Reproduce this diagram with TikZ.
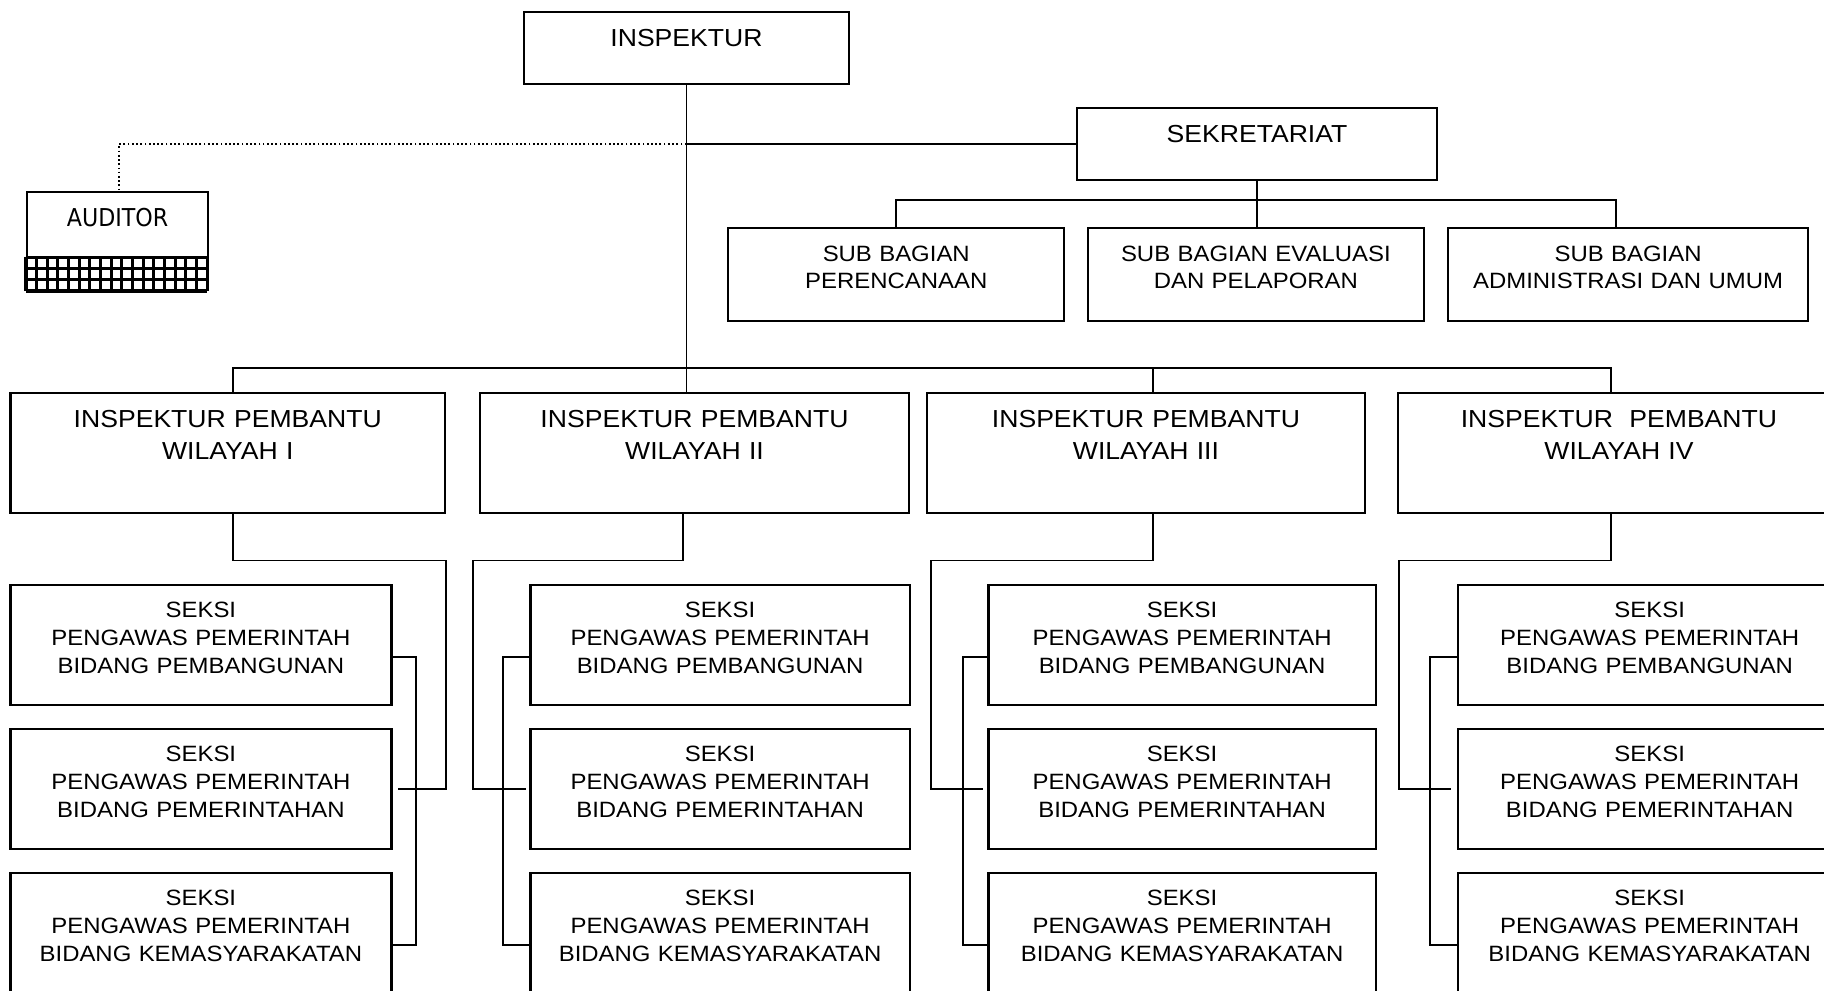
\documentclass[tikz,border=0pt]{standalone}
\usepackage{fontspec}
\setmainfont{Liberation Sans}[FakeStretch=1.08]
\newfontfamily\auditorfont{DejaVu Sans}[FakeStretch=0.9]
\tikzset{
  box/.style={draw, line width=0.65pt, inner sep=0pt, align=center, anchor=north west},
  headbox/.style={box, font=\fontsize{7}{9.1}\selectfont, text height=0.343cm, text depth=0.377cm},
  audbox/.style={box, font=\auditorfont\fontsize{7}{8.5}\selectfont, text height=0.343cm, text depth=0.637cm},
  subbox/.style={box, font=\fontsize{6.3}{7.7}\selectfont, text height=0.333cm, text depth=0.597cm},
  wilbox/.style={box, font=\fontsize{7}{9.1}\selectfont, text height=0.347cm, text depth=0.853cm},
  seksibox/.style={box, font=\fontsize{6.3}{7.9}\selectfont, text height=0.327cm, text depth=0.873cm},
  link/.style={line width=0.5pt},
  staflink/.style={line width=0.5pt, dash pattern=on 0.5pt off 0.7pt},
  gridfill/.style={line width=0.85pt, xstep=0.1066cm, ystep=0.1123cm}
}

\begin{document}
\begin{tikzpicture}[x=0.01cm, y=-0.01cm]
  \useasboundingbox (0,0) rectangle (1824,991);
  \clip (0,0) rectangle (1824,991);

  \coordinate (sbus) at (0,200);
  \coordinate (wbus) at (0,368);
  \coordinate (obus) at (0,560.5);

  % top
  \node[headbox, text width=3.255cm] (insp) at (522.5,10.7) {INSPEKTUR};
  \node[headbox, text width=3.595cm] (sekr) at (1076,107) {SEKRETARIAT};
  \node[audbox, text width=1.813cm] (aud) at (25.7,190.7) {AUDITOR};
  \draw[gridfill, shift={(aud.south west)}] (0,0) grid (1.813cm,0.338cm);

  \node[subbox, text width=3.36cm] (sb1) at (727,227) {SUB BAGIAN\\PERENCANAAN};
  \node[subbox, text width=3.362cm] (sb2) at (1086.5,227) {SUB BAGIAN EVALUASI\\DAN PELAPORAN};
  \node[subbox, text width=3.596cm] (sb3) at (1447,227) {SUB BAGIAN\\ADMINISTRASI DAN UMUM};

  % wilayah
  \node[wilbox, text width=4.344cm] (w1) at (9.3,392) {INSPEKTUR PEMBANTU\\WILAYAH I};
  \node[wilbox, text width=4.285cm] (w2) at (479,392) {INSPEKTUR PEMBANTU\\WILAYAH II};
  \node[wilbox, text width=4.374cm] (w3) at (926,392) {INSPEKTUR PEMBANTU\\WILAYAH III};
  \node[wilbox, text width=4.42cm] (w4) at (1396.7,392) {INSPEKTUR\ \ PEMBANTU\\WILAYAH IV};

  % seksi
  \node[seksibox, text width=3.807cm] (s11) at (9.3,584) {SEKSI\\PENGAWAS PEMERINTAH\\BIDANG PEMBANGUNAN};
  \node[seksibox, text width=3.807cm] (s12) at (9.3,728) {SEKSI\\PENGAWAS PEMERINTAH\\BIDANG PEMERINTAHAN};
  \node[seksibox, text width=3.807cm] (s13) at (9.3,872) {SEKSI\\PENGAWAS PEMERINTAH\\BIDANG KEMASYARAKATAN};
  \node[seksibox, text width=3.79cm] (s21) at (529.3,584) {SEKSI\\PENGAWAS PEMERINTAH\\BIDANG PEMBANGUNAN};
  \node[seksibox, text width=3.79cm] (s22) at (529.3,728) {SEKSI\\PENGAWAS PEMERINTAH\\BIDANG PEMERINTAHAN};
  \node[seksibox, text width=3.79cm] (s23) at (529.3,872) {SEKSI\\PENGAWAS PEMERINTAH\\BIDANG KEMASYARAKATAN};
  \node[seksibox, text width=3.87cm] (s31) at (987.3,584) {SEKSI\\PENGAWAS PEMERINTAH\\BIDANG PEMBANGUNAN};
  \node[seksibox, text width=3.87cm] (s32) at (987.3,728) {SEKSI\\PENGAWAS PEMERINTAH\\BIDANG PEMERINTAHAN};
  \node[seksibox, text width=3.87cm] (s33) at (987.3,872) {SEKSI\\PENGAWAS PEMERINTAH\\BIDANG KEMASYARAKATAN};
  \node[seksibox, text width=3.835cm] (s41) at (1456.7,584) {SEKSI\\PENGAWAS PEMERINTAH\\BIDANG PEMBANGUNAN};
  \node[seksibox, text width=3.835cm] (s42) at (1456.7,728) {SEKSI\\PENGAWAS PEMERINTAH\\BIDANG PEMERINTAHAN};
  \node[seksibox, text width=3.835cm] (s43) at (1456.7,872) {SEKSI\\PENGAWAS PEMERINTAH\\BIDANG KEMASYARAKATAN};

  % lines from the top
  \draw[link] (insp.south) -- (insp.south |- w2.north);
  \draw[link] (insp.south |- sekr.west) -- (sekr.west);
  \draw[staflink] (insp.south |- sekr.west) -| ([xshift=0.015cm]aud.north);
  \draw[link] (sekr.south) -- (sekr.south |- sb2.north);
  \draw[link] (sb1.north) |- ([xshift=-0.121cm]sb3.north |- sbus) -- ([xshift=-0.121cm]sb3.north);
  \draw[link] ([xshift=0.055cm]w1.north) |- ([xshift=-0.082cm]w4.north |- wbus) -- ([xshift=-0.082cm]w4.north);
  \draw[link] ([xshift=0.07cm]w3.north) -- ([xshift=0.07cm]w3.north |- wbus);

  % wilayah I
  \draw[link] ([xshift=0.055cm]w1.south) |- (w1.east |- obus) |- ([xshift=0.057cm]s12.east);
  \draw[link] ([yshift=-0.12cm]s11.east) -- ++(0.233cm,0) |- ([yshift=-0.12cm]s13.east);

  % wilayah II
  \draw[link] ([xshift=-0.113cm]w2.south) |- ([xshift=-0.057cm]w2.west |- obus) |- ([xshift=-0.03cm]s22.west);
  \draw[link] ([yshift=-0.12cm]s21.west) -- ++(-0.266cm,0) |- ([yshift=-0.12cm]s23.west);

  % wilayah III
  \draw[link] ([xshift=0.07cm]w3.south) |- ([xshift=0.047cm]w3.west |- obus) |- ([xshift=-0.04cm]s32.west);
  \draw[link] ([yshift=-0.12cm]s31.west) -- ++(-0.24cm,0) |- ([yshift=-0.12cm]s33.west);

  % wilayah IV
  \draw[link] ([xshift=-0.082cm]w4.south) |- ([xshift=0.02cm]w4.west |- obus) |- ([xshift=-0.054cm]s42.west);
  \draw[link] ([yshift=-0.12cm]s41.west) -- ++(-0.267cm,0) |- ([yshift=-0.12cm]s43.west);
\end{tikzpicture}
\end{document}
